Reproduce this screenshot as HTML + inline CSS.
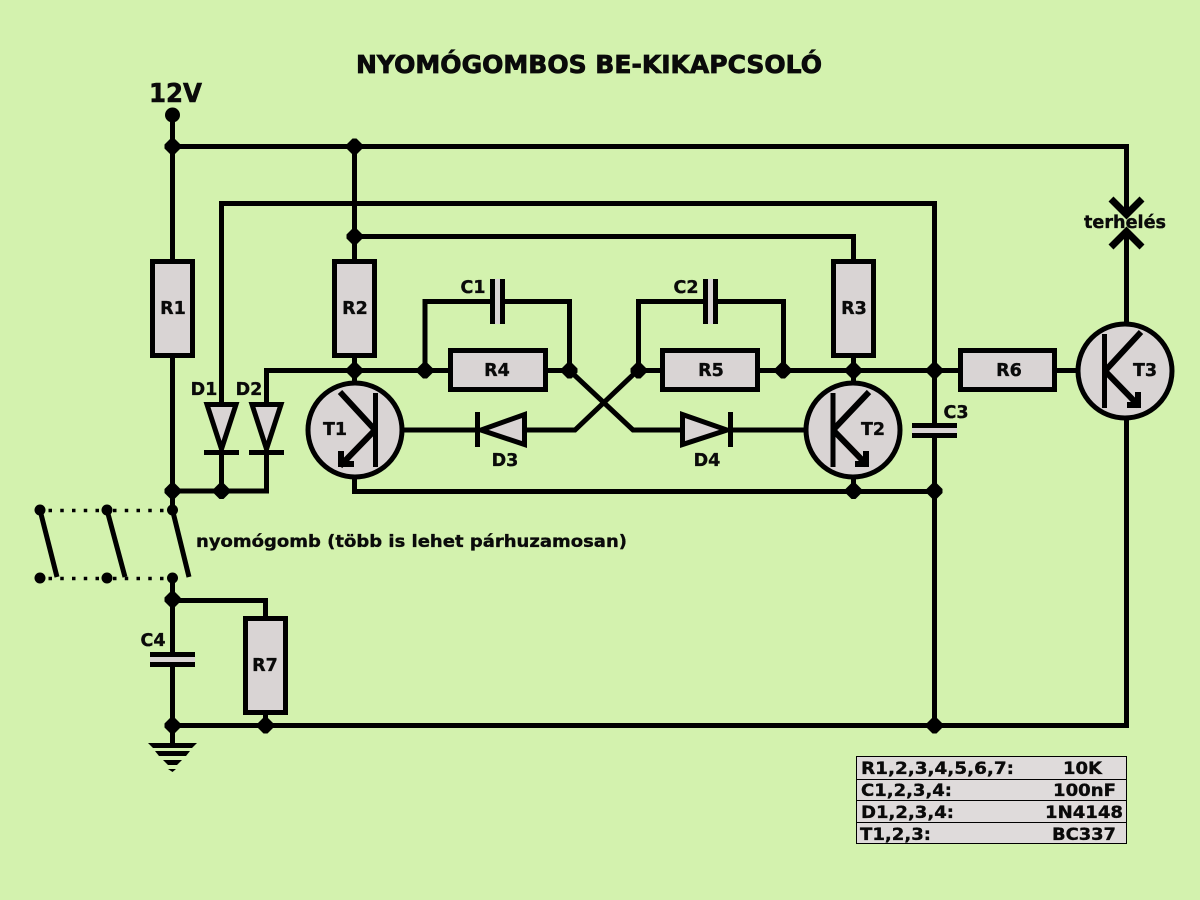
<!DOCTYPE html>
<html><head><meta charset="utf-8"><style>
html,body{margin:0;padding:0;background:#d3f2ae}
svg{display:block}
text{font-family:"DejaVu Sans","Liberation Sans",sans-serif;font-weight:bold;fill:#0a0a0a;stroke:#0a0a0a;stroke-width:.35px}
</style></head><body>
<svg width="1200" height="900" viewBox="0 0 1200 900" xmlns="http://www.w3.org/2000/svg">
<defs>
<polygon id="j" points="-8,-2 -2,-8 2,-8 8,-2 8,2 2,8 -2,8 -8,2" fill="#000"/>
</defs>
<rect width="1200" height="900" fill="#d3f2ae"/>
<g fill="none" stroke="#000" stroke-width="5">
<path d="M172.5 115V510M172.5 146.5H1126.5V216"/>
<path d="M354.5 146V260M354.5 236.5H853.5V260"/>
<path d="M221.5 402V203.5H934.5V428M934.5 433V725"/>
<path d="M266.5 402V370.5H448M548 370.5H569M660 370.5H638M760 370.5H958M1057 370.5H1076"/>
<path d="M354.5 358V382M853.5 358V382"/>
<path d="M172.5 491H266.5V455M221.5 491V455"/>
<path d="M354.5 478V491.5H934.5M853.5 478V491"/>
<path d="M425 370V301.5H490M505 301.5H569.5V370"/>
<path d="M638.5 370V301.5H703M718 301.5H783.5V370"/>
<path d="M404 430H478M527 430H575L638 370"/>
<path d="M569 370L633 430H680M732 430H804"/>
<path d="M1126.5 232V322M1126.500 420V725.500H172.500"/>
<path d="M172.500 578V652M172.500 667V725M172.500 725V744"/>
<path d="M172.500 600.500H265.500V616M265.500 713V725"/>
<path d="M1111 199L1126.500 214.500L1142 199M1111 247L1126.500 231.500L1142 247" stroke-width="7"/>
</g>
<g fill="#d9d4d4" stroke="#000" stroke-width="5">
<rect x="152.500" y="261.500" width="40" height="94"/>
<rect x="334.500" y="261.500" width="40" height="94"/>
<rect x="833.500" y="261.500" width="40" height="94"/>
<rect x="245.500" y="618.500" width="40" height="94"/>
<rect x="450.500" y="350.500" width="95" height="39"/>
<rect x="662.500" y="350.500" width="95" height="39"/>
<rect x="960.500" y="350.500" width="94" height="39"/>
<polygon points="207,404.500 236,404.500 221.500,449"/>
<polygon points="252,404.500 281,404.500 266.500,449"/>
<polygon points="524.500,414.500 524.500,444.500 481,430"/>
<polygon points="682.500,414.500 682.500,444.500 727,430"/>
<circle cx="355" cy="430" r="47"/>
<circle cx="853" cy="430" r="47"/>
<circle cx="1125" cy="371" r="47"/>
</g>
<g fill="#d9d4d4">
<rect x="495" y="279" width="5" height="45"/>
<rect x="708" y="279" width="5" height="45"/>
<rect x="912" y="428" width="45" height="5"/>
<rect x="150" y="657" width="45" height="5"/>
</g>
<g fill="none" stroke="#000" stroke-width="5">
<path d="M204 452.500H239M249 452.500H284M477.500 412V447M730.500 412V447"/>
<path d="M492.500 279V324M502.500 279V324M705.500 279V324M715.500 279V324"/>
<path d="M912 425.500H957M912 435.500H957M150 654.500H195M150 664.500H195"/>
<path d="M375.500 393V467M833 393V467M1104.500 334V408"/>
<path d="M340 392L375 430L340 466M869 392L833 430L867 465M1141 332L1105 371L1139 406" stroke-width="6" stroke-linejoin="bevel"/>
<path d="M40 510L57 577M107 510L125 577M172.500 510L189 577"/>
<path d="M48.500 510.500H100M113 510.500H168M48.500 578.500H100M113 578.500H168" stroke-width="3.500" stroke-dasharray="3.500 8.250"/>
</g>
<polygon points="338,451 344,451 344,461 354,461 354,467 338,467" fill="#000"/>
<polygon points="869,451 863,451 863,461 855,461 855,467 869,467" fill="#000"/>
<polygon points="1141,392 1135,392 1135,402 1127,402 1127,408 1141,408" fill="#000"/>
<g fill="#000">
<polygon points="148,743 197,743 192,748 153,748"/>
<polygon points="155,751 190,751 186,756 159,756"/>
<polygon points="163,760 182,760 177,765 168,765"/>
<polygon points="168,769 176,769 172.500,772"/>
<circle cx="172.500" cy="115" r="7.500"/>
<circle cx="40" cy="510" r="5.500"/><circle cx="107" cy="510" r="5.500"/><circle cx="172.500" cy="510" r="5.500"/>
<circle cx="40" cy="578" r="5.500"/><circle cx="107" cy="578" r="5.500"/><circle cx="172.500" cy="578" r="5.500"/>
</g>
<use href="#j" x="172.500" y="146.500"/><use href="#j" x="354.500" y="146.500"/>
<use href="#j" x="354.500" y="236.500"/>
<use href="#j" x="354.500" y="370.500"/><use href="#j" x="425" y="370.500"/>
<use href="#j" x="569.500" y="370.500"/><use href="#j" x="638.500" y="370.500"/>
<use href="#j" x="783" y="370.500"/><use href="#j" x="853.500" y="370.500"/>
<use href="#j" x="934.500" y="370.500"/>
<use href="#j" x="172.500" y="491"/><use href="#j" x="221.500" y="491"/>
<use href="#j" x="853.500" y="491"/><use href="#j" x="934.500" y="491"/>
<use href="#j" x="172.500" y="599.500"/>
<use href="#j" x="172.500" y="725.500"/><use href="#j" x="265.500" y="725.500"/>
<use href="#j" x="934.500" y="725.500"/>
<text x="356" y="73" font-size="25" style="stroke-width:.8px" textLength="466" lengthAdjust="spacingAndGlyphs">NYOMÓGOMBOS BE-KIKAPCSOLÓ</text>
<text x="149" y="102" font-size="26" style="stroke-width:.6px" textLength="53" lengthAdjust="spacingAndGlyphs">12V</text>
<g font-size="17.500" text-anchor="middle">
<text x="173" y="314">R1</text><text x="355" y="314">R2</text><text x="854" y="314">R3</text>
<text x="265" y="671">R7</text><text x="497" y="376">R4</text><text x="711" y="376">R5</text><text x="1009" y="376">R6</text>
<text x="204" y="395">D1</text><text x="249" y="395">D2</text>
<text x="505" y="466">D3</text><text x="707" y="466">D4</text>
<text x="335" y="435">T1</text><text x="873" y="435">T2</text><text x="1145" y="376">T3</text>
<text x="473" y="293">C1</text><text x="686" y="293">C2</text><text x="956" y="418">C3</text><text x="153" y="646">C4</text>
<text x="1125" y="228" textLength="82" lengthAdjust="spacingAndGlyphs">terhelés</text>
</g>
<text x="196" y="547" font-size="17" textLength="431" lengthAdjust="spacingAndGlyphs">nyomógomb (több is lehet párhuzamosan)</text>
<rect x="856.500" y="756.500" width="270" height="87" fill="#dfdbdb" stroke="#000" stroke-width="1"/>
<path d="M857 779.500H1126M857 800.500H1126M857 822.500H1126" stroke="#000" stroke-width="1"/>
<g font-size="16.500">
<text x="861" y="774" textLength="153" lengthAdjust="spacingAndGlyphs">R1,2,3,4,5,6,7:</text>
<text x="861" y="796" textLength="91" lengthAdjust="spacingAndGlyphs">C1,2,3,4:</text>
<text x="861" y="818" textLength="93" lengthAdjust="spacingAndGlyphs">D1,2,3,4:</text>
<text x="860" y="840" textLength="71" lengthAdjust="spacingAndGlyphs">T1,2,3:</text>
<text x="1063" y="774" textLength="39" lengthAdjust="spacingAndGlyphs">10K</text>
<text x="1053" y="796" textLength="63" lengthAdjust="spacingAndGlyphs">100nF</text>
<text x="1045" y="818" textLength="78" lengthAdjust="spacingAndGlyphs">1N4148</text>
<text x="1052" y="840" textLength="64" lengthAdjust="spacingAndGlyphs">BC337</text>
</g>
</svg>
</body></html>
